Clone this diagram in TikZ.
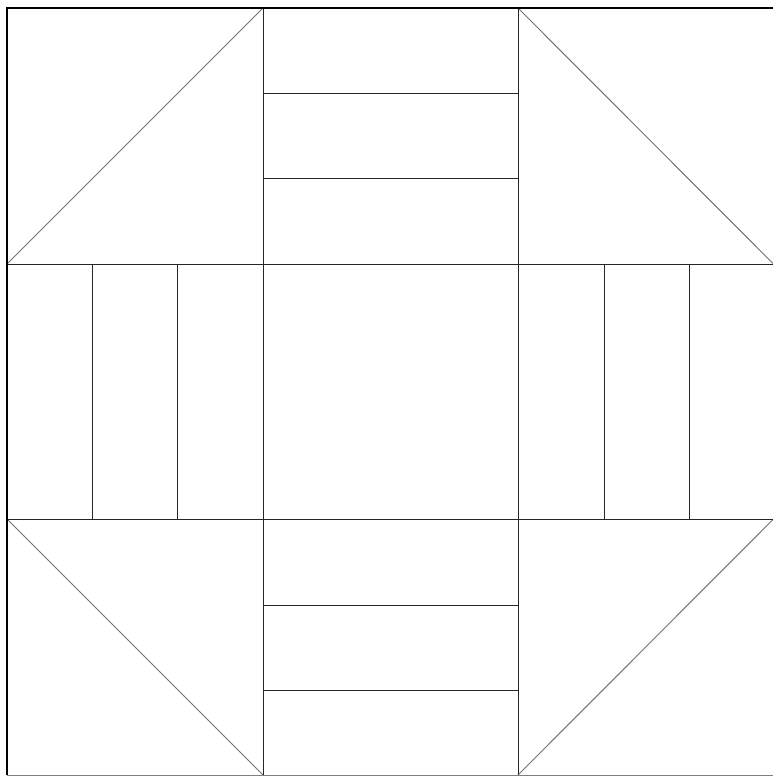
\documentclass[tikz,border=0pt]{standalone}
\begin{document}
\begin{tikzpicture}[x=1pt,y=-1pt,
  seam/.style={draw=black!85,line width=1pt},
  diag/.style={draw=black!55,line width=1pt},
  frame/.style={draw=black,line width=1.6pt}]
\useasboundingbox[fill=white] (0,0) rectangle (772,776);
% grid coordinates
\def\xa{7}\def\xb{263}\def\xc{518}\def\xd{773.5}
\def\ya{8}\def\yb{264}\def\yc{519}\def\yd{775}
% diagonals
\draw[diag] (\xa,\yb) -- (\xb,\ya);
\draw[diag] (\xc,\ya) -- (\xd,\yb);
\draw[diag] (\xa,\yc) -- (\xb,\yd);
\draw[diag] (\xc,\yd) -- (\xd,\yc);
% grid seams
\draw[seam] (\xb,\ya) -- (\xb,\yd);
\draw[seam] (\xc,\ya) -- (\xc,\yd);
\draw[seam] (\xa,\yb) -- (\xd,\yb);
\draw[seam] (\xa,\yc) -- (\xd,\yc);
% strips top and bottom
\draw[seam] (\xb,93) -- (\xc,93);
\draw[seam] (\xb,178) -- (\xc,178);
\draw[seam] (\xb,605) -- (\xc,605);
\draw[seam] (\xb,690) -- (\xc,690);
% strips left and right
\draw[seam] (92,\yb) -- (92,\yc);
\draw[seam] (177,\yb) -- (177,\yc);
\draw[seam] (604,\yb) -- (604,\yc);
\draw[seam] (689,\yb) -- (689,\yc);
% outer frame
\draw[frame] (\xa,\yd) -- (\xa,\ya) -- (\xd,\ya);
\draw[draw=black!50,line width=1pt] (\xa,\yd) -- (\xd,\yd);
\end{tikzpicture}
\end{document}
